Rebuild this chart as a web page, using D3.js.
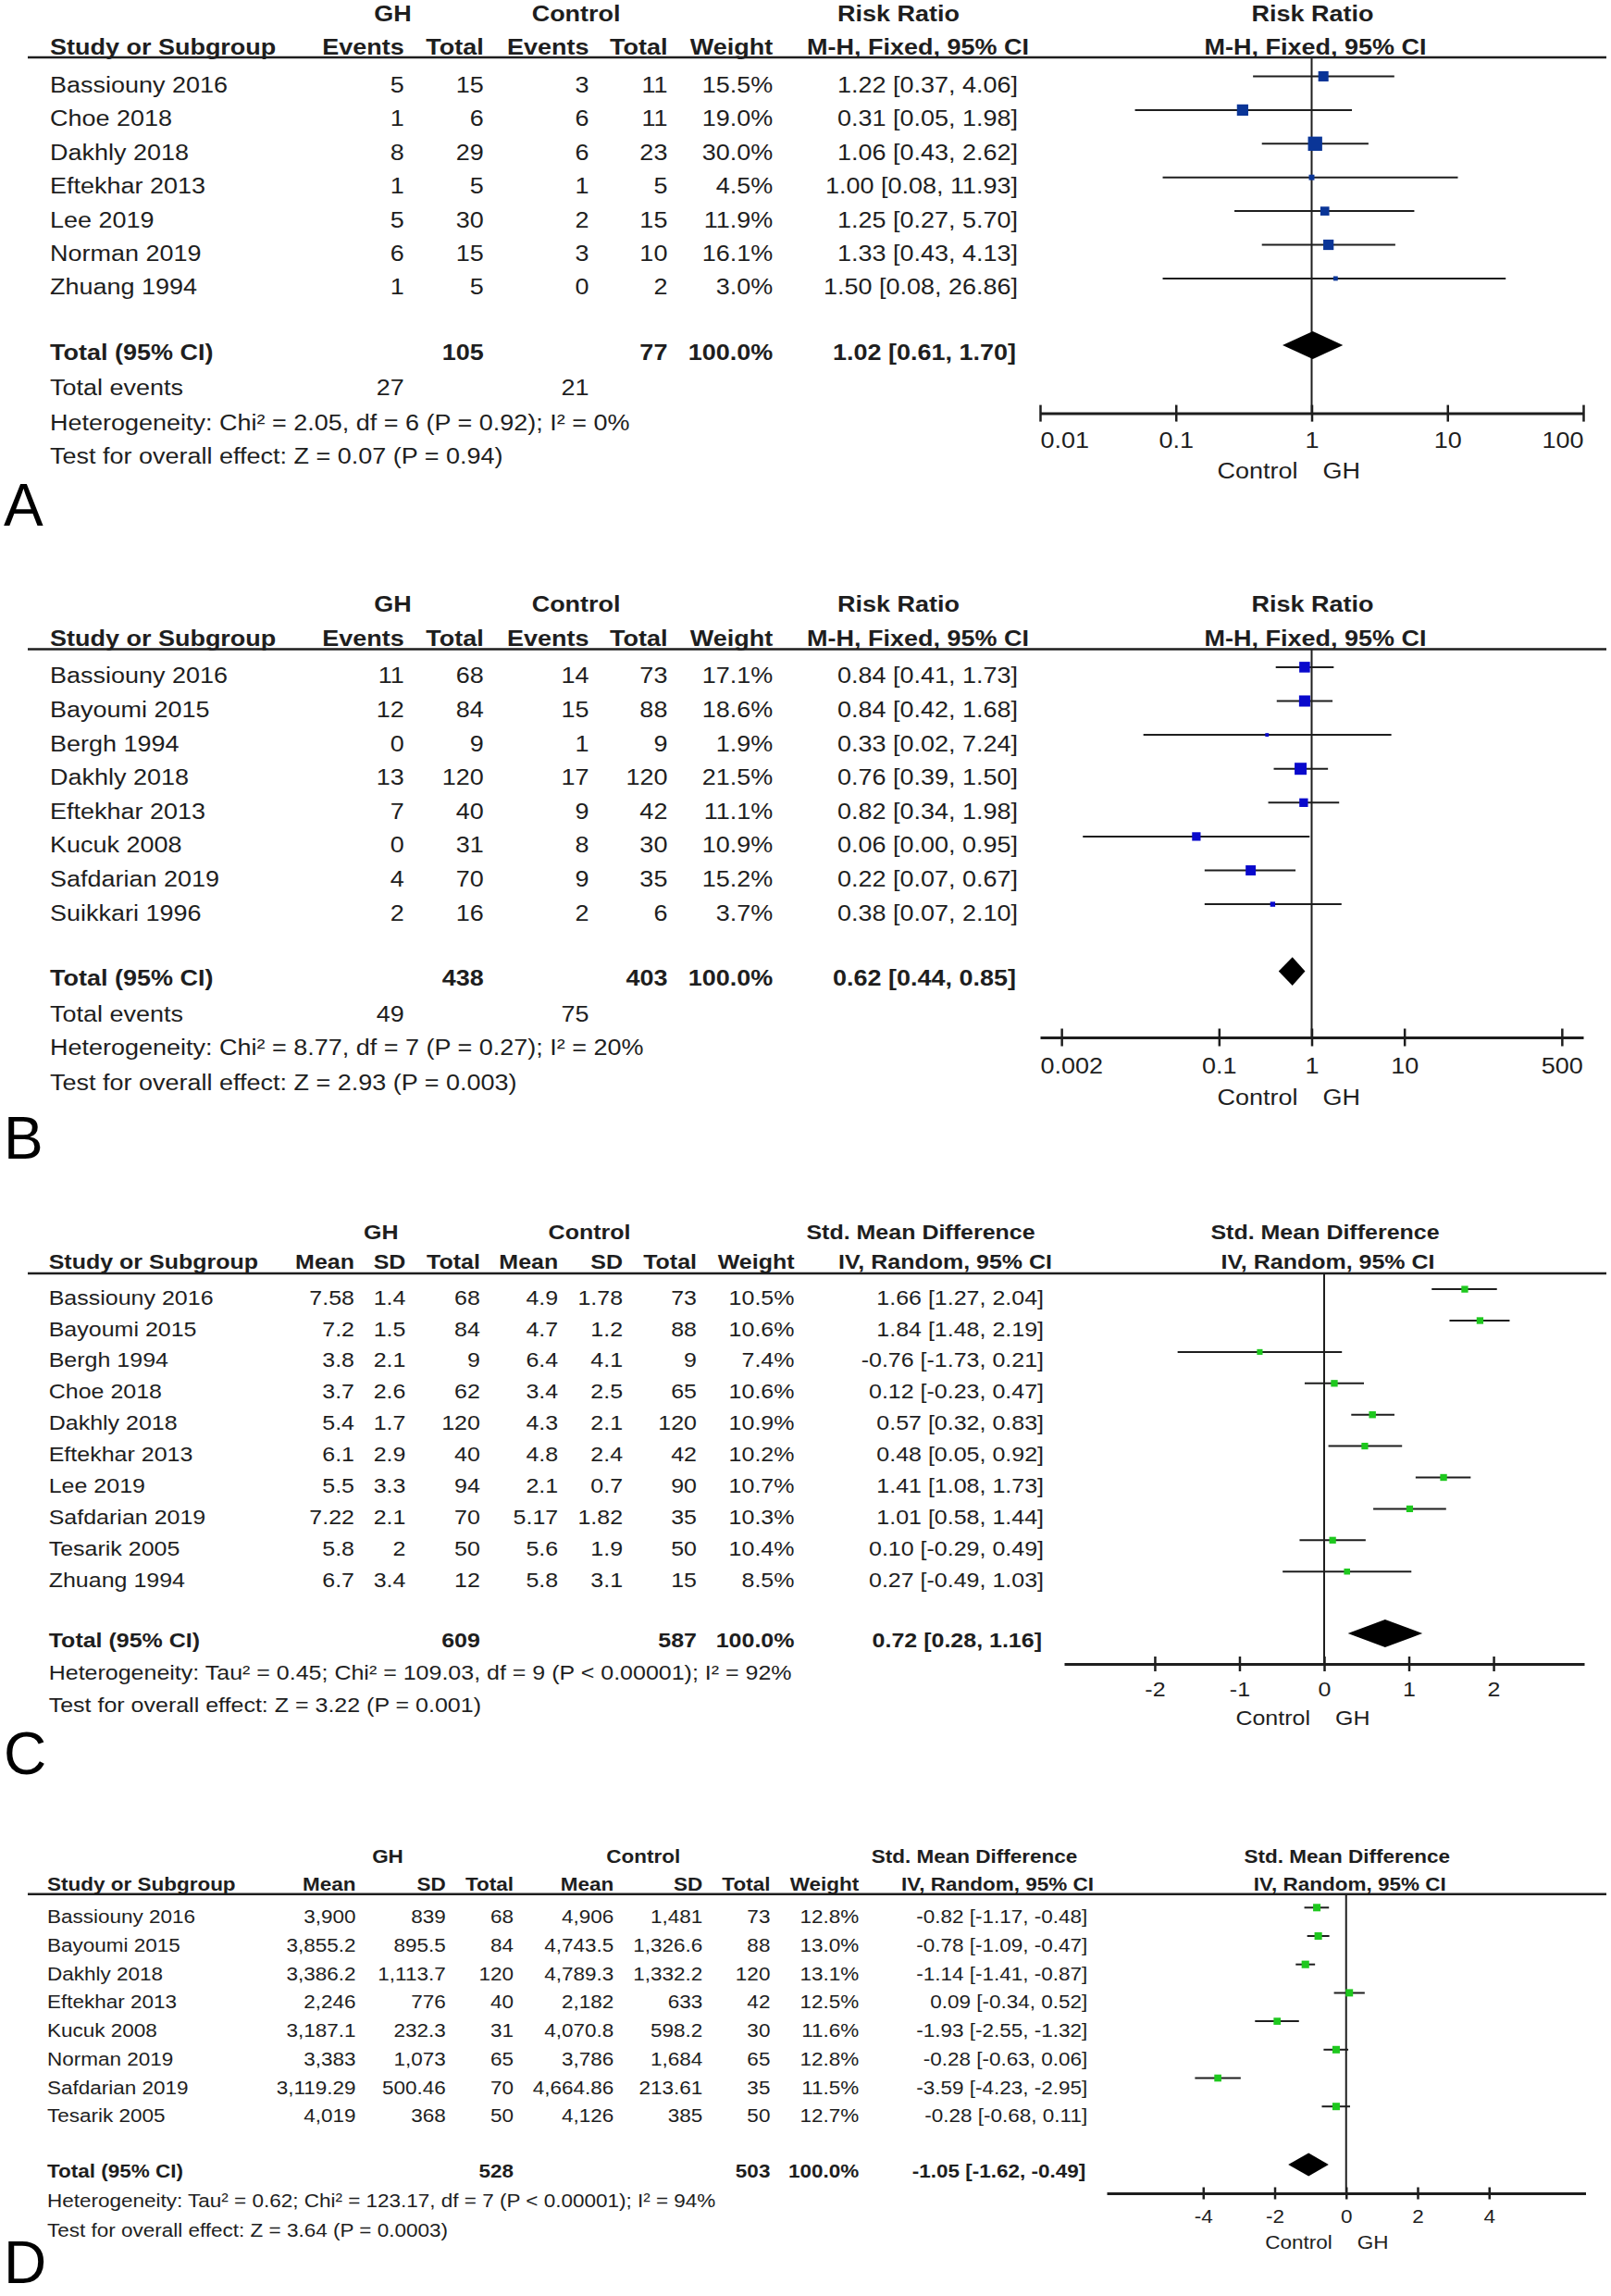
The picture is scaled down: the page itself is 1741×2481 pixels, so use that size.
<!DOCTYPE html>
<html>
<head>
<meta charset="utf-8">
<script src="https://cdn.jsdelivr.net/npm/d3@7"></script>
<style>
  body { margin: 0; background: #fff; }
  svg text { font-family: "Liberation Sans", Arial, Helvetica, sans-serif; fill: #1e1e1e; }
</style>
</head>
<body>
<div id="chart"></div>
<script>
//
// Panel A - risk ratio, 7 studies
//
var studiesA = ["Bassiouny 2016", "Choe 2018", "Dakhly 2018", "Eftekhar 2013", "Lee 2019", "Norman 2019", "Zhuang 1994"];
var ghEventsA = [5, 1, 8, 1, 5, 6, 1];
var ghTotalA = [15, 6, 29, 5, 30, 15, 5];
var ctEventsA = [3, 6, 6, 1, 2, 3, 0];
var ctTotalA = [11, 11, 23, 5, 15, 10, 2];
var weightA = [15.5, 19.0, 30.0, 4.5, 11.9, 16.1, 3.0];
var rrA = [1.22, 0.31, 1.06, 1.00, 1.25, 1.33, 1.50];
var rrLoA = [0.37, 0.05, 0.43, 0.08, 0.27, 0.43, 0.08];
var rrHiA = [4.06, 1.98, 2.62, 11.93, 5.70, 4.13, 26.86];
var totalA = [1.02, 0.61, 1.70];
var sizeA = [105, 77];
var eventsA = [27, 21];
var hetA = "Heterogeneity: Chi\u00b2 = 2.05, df = 6 (P = 0.92); I\u00b2 = 0%";
var testA = "Test for overall effect: Z = 0.07 (P = 0.94)";
var ticksA = [0.01, 0.1, 1, 10, 100];

//
// Panel B - risk ratio, 8 studies
//
var studiesB = ["Bassiouny 2016", "Bayoumi 2015", "Bergh 1994", "Dakhly 2018", "Eftekhar 2013", "Kucuk 2008", "Safdarian 2019", "Suikkari 1996"];
var ghEventsB = [11, 12, 0, 13, 7, 0, 4, 2];
var ghTotalB = [68, 84, 9, 120, 40, 31, 70, 16];
var ctEventsB = [14, 15, 1, 17, 9, 8, 9, 2];
var ctTotalB = [73, 88, 9, 120, 42, 30, 35, 6];
var weightB = [17.1, 18.6, 1.9, 21.5, 11.1, 10.9, 15.2, 3.7];
var rrB = [0.84, 0.84, 0.33, 0.76, 0.82, 0.057, 0.22, 0.38];
var rrLoB = [0.41, 0.42, 0.0153, 0.39, 0.34, 0.0034, 0.07, 0.07];
var rrHiB = [1.73, 1.68, 7.24, 1.50, 1.98, 0.95, 0.67, 2.10];
var totalB = [0.62, 0.44, 0.85];
var sizeB = [438, 403];
var eventsB = [49, 75];
var hetB = "Heterogeneity: Chi\u00b2 = 8.77, df = 7 (P = 0.27); I\u00b2 = 20%";
var testB = "Test for overall effect: Z = 2.93 (P = 0.003)";
var ticksB = [0.002, 0.1, 1, 10, 500];

//
// Panel C - std. mean difference, 10 studies
//
var studiesC = ["Bassiouny 2016", "Bayoumi 2015", "Bergh 1994", "Choe 2018", "Dakhly 2018", "Eftekhar 2013", "Lee 2019", "Safdarian 2019", "Tesarik 2005", "Zhuang 1994"];
var ghMeanC = [7.58, 7.2, 3.8, 3.7, 5.4, 6.1, 5.5, 7.22, 5.8, 6.7];
var ghSdC = [1.4, 1.5, 2.1, 2.6, 1.7, 2.9, 3.3, 2.1, 2, 3.4];
var ghTotalC = [68, 84, 9, 62, 120, 40, 94, 70, 50, 12];
var ctMeanC = [4.9, 4.7, 6.4, 3.4, 4.3, 4.8, 2.1, 5.17, 5.6, 5.8];
var ctSdC = [1.78, 1.2, 4.1, 2.5, 2.1, 2.4, 0.7, 1.82, 1.9, 3.1];
var ctTotalC = [73, 88, 9, 65, 120, 42, 90, 35, 50, 15];
var weightC = [10.5, 10.6, 7.4, 10.6, 10.9, 10.2, 10.7, 10.3, 10.4, 8.5];
var smdC = [1.66, 1.84, -0.76, 0.12, 0.57, 0.48, 1.41, 1.01, 0.10, 0.27];
var smdLoC = [1.27, 1.48, -1.73, -0.23, 0.32, 0.05, 1.08, 0.58, -0.29, -0.49];
var smdHiC = [2.04, 2.19, 0.21, 0.47, 0.83, 0.92, 1.73, 1.44, 0.49, 1.03];
var totalC = [0.72, 0.28, 1.16];
var sizeC = [609, 587];
var hetC = "Heterogeneity: Tau\u00b2 = 0.45; Chi\u00b2 = 109.03, df = 9 (P < 0.00001); I\u00b2 = 92%";
var testC = "Test for overall effect: Z = 3.22 (P = 0.001)";
var ticksC = [-2, -1, 0, 1, 2];

//
// Panel D - std. mean difference, 8 studies
//
var studiesD = ["Bassiouny 2016", "Bayoumi 2015", "Dakhly 2018", "Eftekhar 2013", "Kucuk 2008", "Norman 2019", "Safdarian 2019", "Tesarik 2005"];
var ghMeanD = [3900, 3855.2, 3386.2, 2246, 3187.1, 3383, 3119.29, 4019];
var ghSdD = [839, 895.5, 1113.7, 776, 232.3, 1073, 500.46, 368];
var ghTotalD = [68, 84, 120, 40, 31, 65, 70, 50];
var ctMeanD = [4906, 4743.5, 4789.3, 2182, 4070.8, 3786, 4664.86, 4126];
var ctSdD = [1481, 1326.6, 1332.2, 633, 598.2, 1684, 213.61, 385];
var ctTotalD = [73, 88, 120, 42, 30, 65, 35, 50];
var weightD = [12.8, 13.0, 13.1, 12.5, 11.6, 12.8, 11.5, 12.7];
var smdD = [-0.82, -0.78, -1.14, 0.09, -1.93, -0.28, -3.59, -0.28];
var smdLoD = [-1.17, -1.09, -1.41, -0.34, -2.55, -0.63, -4.23, -0.68];
var smdHiD = [-0.48, -0.47, -0.87, 0.52, -1.32, 0.06, -2.95, 0.11];
var totalD = [-1.05, -1.62, -0.49];
var sizeD = [528, 503];
var hetD = "Heterogeneity: Tau\u00b2 = 0.62; Chi\u00b2 = 123.17, df = 7 (P < 0.00001); I\u00b2 = 94%";
var testD = "Test for overall effect: Z = 3.64 (P = 0.0003)";
var ticksD = [-4, -2, 0, 2, 4];

var W = 1741, H = 2481;
var SX = 1.09;   // the figure's type is a little wider than Arial

var svg = d3.select("#chart").append("svg")
	.attr("width", W)
	.attr("height", H);

var fmtN = d3.format(",");
function f2(v) { return v.toFixed(2); }
function ciText(e, l, h) { return f2(e) + " [" + f2(l) + ", " + f2(h) + "]"; }

// size is the width-equivalent size; glyphs get stretched by SX
function label(g, x, y, s, size, anchor, bold) {
	return g.append("text")
		.attr("transform", "translate(" + x + "," + y + ") scale(" + SX + ",1)")
		.attr("text-anchor", anchor || "start")
		.style("font-size", (size / SX) + "px")
		.style("font-weight", bold ? "bold" : "normal")
		.text(s);
}

//
// one forest plot: table on the left, plot on the right
//
function drawPanel(p) {
	var g = svg.append("g");
	var fs = p.fs;
	var x = p.scale.range([p.axL, p.axR]);
	var nullX = x(p.nullValue);
	var rowY = function(i) { return p.row0 + i * p.step; };
	var side = d3.scaleSqrt().domain([0, 100]).range([0, p.sq * 10]);

	// group headers
	label(g, p.ghX, p.yGroup, "GH", fs, "middle", true);
	label(g, p.ctX, p.yGroup, "Control", fs, "middle", true);
	label(g, p.effX1, p.yGroup, p.effTitle, fs, "middle", true);
	label(g, nullX + 1, p.yGroup, p.effTitle, fs, "middle", true);

	// column headers
	label(g, p.x0, p.yHead, "Study or Subgroup", fs, "start", true);
	p.cols.forEach(function(c) { label(g, c.r, p.yHead, c.h, fs, "end", true); });
	label(g, p.weightR, p.yHead, "Weight", fs, "end", true);
	label(g, p.effX2, p.yHead, p.method, fs, "middle", true);
	label(g, nullX + 4, p.yHead, p.method, fs, "middle", true);

	g.append("line")
		.attr("x1", 30).attr("x2", 1736)
		.attr("y1", p.yRule).attr("y2", p.yRule)
		.style("stroke", "#1e1e1e").style("stroke-width", 2.5);

	// null line
	g.append("line")
		.attr("x1", nullX).attr("x2", nullX)
		.attr("y1", p.yRule).attr("y2", p.yAxis)
		.style("stroke", "#1e1e1e").style("stroke-width", 2);

	// study rows
	p.studies.forEach(function(s, i) {
		var y = rowY(i);
		label(g, p.x0, y, s, fs);
		p.cols.forEach(function(c) { label(g, c.r, y, fmtN(c.v[i]), fs, "end"); });
		label(g, p.weightR, y, p.weight[i].toFixed(1) + "%", fs, "end");
		label(g, p.ciR, y, ciText(p.est[i], p.lo[i], p.hi[i]), fs, "end");

		var my = y - p.mOff;
		g.append("line")
			.attr("x1", x(p.lo[i])).attr("x2", x(p.hi[i]))
			.attr("y1", my).attr("y2", my)
			.style("stroke", "#1e1e1e").style("stroke-width", 2);
		var sd = side(p.weight[i]);
		g.append("rect")
			.attr("x", x(p.est[i]) - sd / 2)
			.attr("y", my - sd / 2)
			.attr("width", sd)
			.attr("height", sd)
			.style("fill", p.color);
	});

	// total row
	label(g, p.x0, p.yTotal, "Total (95% CI)", fs, "start", true);
	p.cols.forEach(function(c) {
		if (c.tot !== undefined) label(g, c.r, p.yTotal, fmtN(c.tot), fs, "end", true);
	});
	label(g, p.weightR, p.yTotal, "100.0%", fs, "end", true);
	label(g, p.ciR - 2, p.yTotal, ciText(p.total[0], p.total[1], p.total[2]), fs, "end", true);

	var dy = p.yTotal - p.dOff;
	g.append("path")
		.attr("d", "M" + x(p.total[1]) + "," + dy +
			"L" + x(p.total[0]) + "," + (dy - p.dH) +
			"L" + x(p.total[2]) + "," + dy +
			"L" + x(p.total[0]) + "," + (dy + p.dH) + "Z")
		.style("fill", "#000");

	if (p.yEvents) {
		label(g, p.x0, p.yEvents, "Total events", fs);
		p.cols.forEach(function(c) {
			if (c.ev !== undefined) label(g, c.r, p.yEvents, fmtN(c.ev), fs, "end");
		});
	}
	label(g, p.x0, p.yHet, p.het, fs);
	label(g, p.x0, p.yTest, p.test, fs);

	// axis
	var ax = g.append("g")
		.attr("transform", "translate(0," + p.yAxis + ")")
		.call(d3.axisBottom(x)
			.tickValues(p.ticks)
			.tickFormat(function(d) { return String(d); })
			.tickSizeOuter(0)
			.tickSizeInner(p.tick));
	ax.select(".domain").style("stroke", "#1e1e1e").style("stroke-width", 3);
	ax.selectAll(".tick line")
		.attr("y1", -p.tick).attr("y2", p.tick)
		.style("stroke", "#1e1e1e").style("stroke-width", 2.5);
	ax.selectAll(".tick text")
		.attr("y", 0)
		.attr("dy", 0)
		.style("font-size", (fs / SX) + "px")
		.style("fill", "#1e1e1e")
		.each(function(d) {
			// keep end labels inside the axis
			var w = this.getComputedTextLength() * SX, cx = x(d), dx = 0;
			if (cx - w / 2 < p.axL) dx = p.axL - (cx - w / 2);
			if (cx + w / 2 > p.axR) dx = p.axR - (cx + w / 2);
			d3.select(this).attr("transform",
				"translate(" + dx + "," + (p.yTickLab - p.yAxis) + ") scale(" + SX + ",1)");
		});

	label(g, nullX - 15, p.yDir, "Control", fs, "end");
	label(g, nullX + 12, p.yDir, "GH", fs, "start");

	g.append("text")
		.attr("x", 4)
		.attr("y", p.letterY)
		.style("font-size", "64px")
		.style("fill", "#000")
		.text(p.letter);
}

drawPanel({
	studies: studiesA, weight: weightA, est: rrA, lo: rrLoA, hi: rrHiA, total: totalA,
	het: hetA, test: testA, ticks: ticksA, letter: "A",
	effTitle: "Risk Ratio", method: "M-H, Fixed, 95% CI",
	cols: [
		{h: "Events", r: 436.7, v: ghEventsA, ev: eventsA[0]},
		{h: "Total", r: 522.8, v: ghTotalA, tot: sizeA[0]},
		{h: "Events", r: 636.5, v: ctEventsA, ev: eventsA[1]},
		{h: "Total", r: 721.4, v: ctTotalA, tot: sizeA[1]}
	],
	scale: d3.scaleLog().domain([0.01, 100]), nullValue: 1,
	fs: 27, x0: 54, ghX: 424.5, ctX: 622.6, weightR: 835.2, effX1: 971, effX2: 992, ciR: 1100,
	yGroup: 22.5, yHead: 58.5, yRule: 62, row0: 100, step: 36.4,
	yTotal: 389, yEvents: 427, yHet: 465, yTest: 501,
	axL: 1124, axR: 1711, yAxis: 446.6, tick: 9, yTickLab: 484, yDir: 517,
	mOff: 17.5, sq: 2.8, dOff: 16, dH: 15, color: "#0a3597", letterY: 568
});

drawPanel({
	studies: studiesB, weight: weightB, est: rrB, lo: rrLoB, hi: rrHiB, total: totalB,
	het: hetB, test: testB, ticks: ticksB, letter: "B",
	effTitle: "Risk Ratio", method: "M-H, Fixed, 95% CI",
	cols: [
		{h: "Events", r: 436.7, v: ghEventsB, ev: eventsB[0]},
		{h: "Total", r: 522.8, v: ghTotalB, tot: sizeB[0]},
		{h: "Events", r: 636.5, v: ctEventsB, ev: eventsB[1]},
		{h: "Total", r: 721.4, v: ctTotalB, tot: sizeB[1]}
	],
	scale: d3.scaleLog().domain([Math.pow(10, -2.93), Math.pow(10, 2.93)]), nullValue: 1,
	fs: 27, x0: 54, ghX: 424.5, ctX: 622.6, weightR: 835.2, effX1: 971, effX2: 992, ciR: 1100,
	yGroup: 660.8, yHead: 697.6, yRule: 701.6, row0: 738.4, step: 36.6,
	yTotal: 1065, yEvents: 1103.7, yHet: 1140.4, yTest: 1177.5,
	axL: 1124, axR: 1711, yAxis: 1121, tick: 9.5, yTickLab: 1159.5, yDir: 1193.5,
	mOff: 17.5, sq: 2.8, dOff: 15.4, dH: 15.3, color: "#0909cc", letterY: 1252
});

drawPanel({
	studies: studiesC, weight: weightC, est: smdC, lo: smdLoC, hi: smdHiC, total: totalC,
	het: hetC, test: testC, ticks: ticksC, letter: "C",
	effTitle: "Std. Mean Difference", method: "IV, Random, 95% CI",
	cols: [
		{h: "Mean", r: 383, v: ghMeanC},
		{h: "SD", r: 438.4, v: ghSdC},
		{h: "Total", r: 518.9, v: ghTotalC, tot: sizeC[0]},
		{h: "Mean", r: 603.2, v: ctMeanC},
		{h: "SD", r: 673.1, v: ctSdC},
		{h: "Total", r: 753, v: ctTotalC, tot: sizeC[1]}
	],
	scale: d3.scaleLinear().domain([-3.07, 3.07]), nullValue: 0,
	fs: 25, x0: 52.7, ghX: 411.8, ctX: 637, weightR: 858.5, effX1: 995, effX2: 1021.5, ciR: 1128,
	yGroup: 1338.5, yHead: 1371.2, yRule: 1376, row0: 1409.6, step: 33.9,
	yTotal: 1780, yHet: 1815.4, yTest: 1850,
	axL: 1150, axR: 1712, yAxis: 1798, tick: 8, yTickLab: 1833, yDir: 1864,
	mOff: 16.5, sq: 2.25, dOff: 15, dH: 15, color: "#1ec81e", letterY: 1917
});

drawPanel({
	studies: studiesD, weight: weightD, est: smdD, lo: smdLoD, hi: smdHiD, total: totalD,
	het: hetD, test: testD, ticks: ticksD, letter: "D",
	effTitle: "Std. Mean Difference", method: "IV, Random, 95% CI",
	cols: [
		{h: "Mean", r: 384.6, v: ghMeanD},
		{h: "SD", r: 481.7, v: ghSdD},
		{h: "Total", r: 555, v: ghTotalD, tot: sizeD[0]},
		{h: "Mean", r: 663.2, v: ctMeanD},
		{h: "SD", r: 759.2, v: ctSdD},
		{h: "Total", r: 832.4, v: ctTotalD, tot: sizeD[1]}
	],
	scale: d3.scaleLinear().domain([-6.7, 6.7]), nullValue: 0,
	fs: 22.5, x0: 51, ghX: 419, ctX: 695.3, weightR: 928.3, effX1: 1053, effX2: 1078, ciR: 1175.2,
	yGroup: 2013.3, yHead: 2043.3, yRule: 2046.7, row0: 2078.3, step: 30.7,
	yTotal: 2353, yHet: 2385, yTest: 2416.7,
	axL: 1196, axR: 1713.5, yAxis: 2370, tick: 6.5, yTickLab: 2401.7, yDir: 2430,
	mOff: 17, sq: 2.25, dOff: 14, dH: 12.5, color: "#1ec81e", letterY: 2467
});
</script>
</body>
</html>
